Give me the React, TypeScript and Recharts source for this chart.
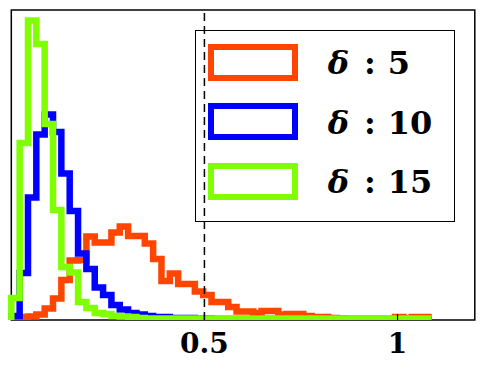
import React from 'react';
import { LineChart, Line, XAxis, YAxis, ReferenceLine, ReferenceArea, Legend } from 'recharts';

// Histogram bins: 50 bins of equal width starting at 0
const BIN_WIDTH = 0.0216;
const seriesNames = ['δ : 5', 'δ : 10', 'δ : 15'];
const seriesDeltas = ['5', '10', '15'];
const seriesColors = ['#FF4500', '#0000FF', '#7FFF00'];

const counts5 = [
  1, 3, 3.5, 5.5, 11.5, 21.5, 40, 59.5, 60, 83.5,
  77.5, 77.5, 87.5, 93.5, 84, 84, 76.5, 61, 39, 46.5,
  36, 36, 28.5, 25, 18, 18, 13, 8.5, 8.5, 7,
  9, 9, 5.5, 6, 6, 4, 3, 3, 2, 1.5,
  1, 1, 1, 1, 1, 1, 3, 1.5, 3, 3,
];
const counts10 = [
  4, 47, 122.5, 185.5, 205.5, 188, 146.5, 109, 66.5, 51,
  32.5, 25, 15, 10.5, 7, 5.5, 4, 3, 3, 2,
  2, 2, 1.5, 1.5, 1, 1, 1, 1, 1, 1,
  1, 1, 1, 1, 1, 1, 1, 1, 1, 1,
  1, 1, 1, 1, 1, 1, 1, 1, 1, 1,
];
const counts15 = [
  22, 177, 299.5, 276, 196, 110, 53, 47.5, 18, 12,
  7, 6, 4, 3.5, 3, 2, 1.5, 1.5, 1.5, 1.5,
  1.5, 1.5, 1.5, 1.5, 1.5, 1.5, 1.5, 1.5, 1.5, 1.5,
  1.5, 1.5, 1.5, 1.5, 1.5, 1.5, 1.5, 1.5, 1.5, 1.5,
  1.5, 1.5, 1.5, 1.5, 1.5, 1.5, 1.5, 1.5, 1.5, 1.5,
];

const xTicks = [0.5, 1];
const xTickLabels = ['0.5', '1'];
const THRESHOLD = 0.5;
const X_DOMAIN: [number, number] = [0, 1.2];
const Y_DOMAIN: [number, number] = [0, 310];

// step outline: start at 0 on left edge, one point per bin's left edge, end back at 0 on last edge
const data = [
  { x: 0, s5: 0, s10: 0, s15: 0 },
  ...counts5.map((_, i) => ({ x: i * BIN_WIDTH, s5: counts5[i], s10: counts10[i], s15: counts15[i] })),
  { x: counts5.length * BIN_WIDTH, s5: 0, s10: 0, s15: 0 },
];

const renderTick = (props: any) => {
  const { x, y, payload } = props;
  const idx = xTicks.indexOf(payload.value);
  return (
    <g>
      <line x1={x} x2={x} y1={y} y2={y - 6} stroke="#000" strokeWidth={1.2} />
      <text
        x={x}
        y={y + 33}
        textAnchor="middle"
        fontFamily="DejaVu Serif"
        fontWeight="bold"
        fontSize={28}
        fill="#000"
      >
        {idx >= 0 ? xTickLabels[idx] : String(payload.value)}
      </text>
    </g>
  );
};

const LegendContent = () => {
  return (
    <div
      style={{
        position: 'relative',
        width: 260,
        height: 192,
        boxSizing: 'border-box',
        border: '1.5px solid #000',
        background: 'transparent',
      }}
    >
      {seriesNames.map((name, i) => (
        <div key={name} style={{ position: 'absolute', left: 0, top: 12.5 + i * 59.7, width: 258, height: 37 }}>
          <div
            style={{
              position: 'absolute',
              left: 11.8,
              top: 0,
              width: 90,
              height: 37,
              boxSizing: 'border-box',
              border: `6.5px solid ${seriesColors[i]}`,
            }}
          />
          <div
            style={{
              position: 'absolute',
              left: 131.8,
              top: 1.5,
              height: 37,
              lineHeight: '37px',
              fontFamily: 'DejaVu Serif',
              fontWeight: 'bold',
              fontSize: 32,
              color: '#000',
              whiteSpace: 'nowrap',
            }}
          >
            <span style={{ position: 'absolute', left: 0, fontStyle: 'italic', fontWeight: 'bold' }}>δ</span>
            <span style={{ position: 'absolute', left: 32, width: 20, textAlign: 'center' }}>:</span>
            <span style={{ position: 'absolute', left: 60 }}>{seriesDeltas[i]}</span>
          </div>
        </div>
      ))}
    </div>
  );
};

export default function App() {
  return (
    <div style={{ position: 'absolute', left: 0, top: 0, width: 484, height: 370, background: '#fff' }}>
      <LineChart
        width={484}
        height={370}
        data={data}
        margin={{ top: 10, right: 9.2, left: 11.3, bottom: 0 }}
      >
        <XAxis
          dataKey="x"
          type="number"
          domain={X_DOMAIN}
          ticks={xTicks}
          height={50}
          axisLine={false}
          tickLine={false}
          tickSize={0}
          tickMargin={0}
          tick={renderTick}
          interval={0}
        />
        <YAxis type="number" domain={Y_DOMAIN} hide allowDataOverflow />
        <Line
          name={seriesNames[0]}
          dataKey="s5"
          type="stepAfter"
          stroke={seriesColors[0]}
          strokeWidth={6.5}
          strokeLinejoin="miter"
          dot={false}
          activeDot={false}
          isAnimationActive={false}
        />
        <Line
          name={seriesNames[1]}
          dataKey="s10"
          type="stepAfter"
          stroke={seriesColors[1]}
          strokeWidth={6.5}
          strokeLinejoin="miter"
          dot={false}
          activeDot={false}
          isAnimationActive={false}
        />
        <Line
          name={seriesNames[2]}
          dataKey="s15"
          type="stepAfter"
          stroke={seriesColors[2]}
          strokeWidth={6.5}
          strokeLinejoin="miter"
          dot={false}
          activeDot={false}
          isAnimationActive={false}
        />
        <ReferenceLine
          x={THRESHOLD}
          stroke="#000"
          strokeWidth={1.5}
          strokeDasharray="8 5"
          ifOverflow="visible"
        />
        <ReferenceArea
          x1={X_DOMAIN[0]}
          x2={X_DOMAIN[1]}
          y1={Y_DOMAIN[0]}
          y2={Y_DOMAIN[1]}
          fill="none"
          fillOpacity={0}
          stroke="#000"
          strokeWidth={1.5}
          ifOverflow="visible"
        />
        <Legend
          layout="vertical"
          align="center"
          verticalAlign="middle"
          content={<LegendContent />}
          wrapperStyle={{ position: 'absolute', left: 195, top: 30, width: 260, height: 192, margin: 0 }}
        />
      </LineChart>
    </div>
  );
}
